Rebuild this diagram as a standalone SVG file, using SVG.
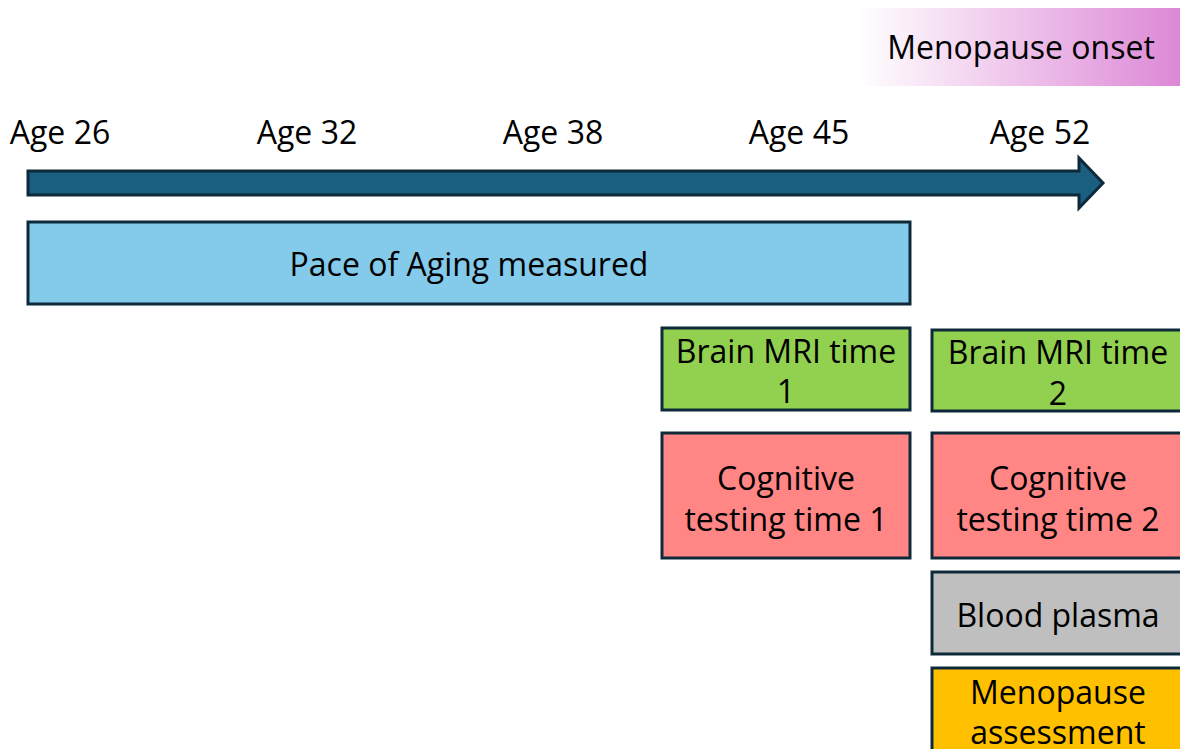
<svg xmlns="http://www.w3.org/2000/svg" width="1180" height="749" viewBox="0 0 1180 749">
<defs>
<linearGradient id="meno" x1="0" y1="0" x2="1" y2="0">
<stop offset="0" stop-color="#FFFFFF"/>
<stop offset="1" stop-color="#DD88D6"/>
</linearGradient>
</defs>
<style>
text{font-family:"Open Sans","Liberation Sans",Arial,sans-serif;font-size:32px;fill:#000;text-anchor:middle}
.box{stroke:#0E2A3A;stroke-width:3}
</style>
<rect width="1180" height="749" fill="#fff"/>
<g id="menopause-onset">
<rect x="858" y="8" width="322" height="78" fill="url(#meno)"/>
<text x="1021" y="59">Menopause onset</text>
</g>
<g id="age-labels">
<text x="60" y="144">Age 26</text>
<text x="307" y="144">Age 32</text>
<text x="553" y="144">Age 38</text>
<text x="799" y="144">Age 45</text>
<text x="1040" y="144">Age 52</text>
</g>
<g id="connectors">
<path d="M28,171 L1079,171 L1079,158 L1103,183 L1079,208 L1079,195 L28,195 Z" fill="#1A5E80" stroke="#0E2A3A" stroke-width="3" stroke-linejoin="miter"/>
</g>
<g id="pace">
<rect class="box" x="28" y="222" width="882" height="82" fill="#83CAEB"/>
<text x="469" y="276">Pace of Aging measured</text>
</g>
<g id="mri1">
<rect class="box" x="662" y="328" width="248" height="82" fill="#92D050"/>
<text x="786" y="363">Brain MRI time</text>
<text x="786" y="403">1</text>
</g>
<g id="mri2">
<rect class="box" x="932" y="330" width="260" height="81" fill="#92D050"/>
<text x="1058" y="364">Brain MRI time</text>
<text x="1058" y="405">2</text>
</g>
<g id="cog1">
<rect class="box" x="662" y="433" width="248" height="125" fill="#FF8685"/>
<text x="786" y="490">Cognitive</text>
<text x="786" y="531">testing time 1</text>
</g>
<g id="cog2">
<rect class="box" x="932" y="433" width="260" height="125" fill="#FF8685"/>
<text x="1058" y="490">Cognitive</text>
<text x="1058" y="531">testing time 2</text>
</g>
<g id="blood">
<rect class="box" x="932" y="572" width="260" height="82" fill="#BFBFBF"/>
<text x="1058" y="627">Blood plasma</text>
</g>
<g id="meno-assess">
<rect class="box" x="932" y="668" width="260" height="100" fill="#FFC000"/>
<text x="1058" y="704">Menopause</text>
<text x="1058" y="744">assessment</text>
</g>
</svg>
